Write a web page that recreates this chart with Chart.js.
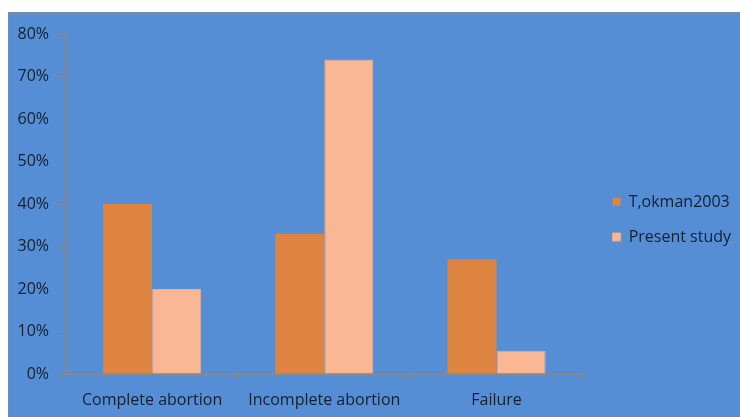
<!DOCTYPE html>
<html>
<head>
<meta charset="utf-8">
<script src="https://cdn.jsdelivr.net/npm/chart.js@4/dist/chart.umd.min.js"></script>
<style>
  html, body { margin: 0; padding: 0; background: #fff; }
  #box {
    position: absolute; left: 8px; top: 12px; width: 732px; height: 405px;
    background: #558ED5; border-top: 3px solid #6C8DB9; border-left: 1px solid #6C8DB9;
    box-sizing: border-box;
  }
  #wrap { position: absolute; left: 8px; top: 12px; width: 732px; height: 405px; }
</style>
</head>
<body>
<div id="box"></div>
<div id="wrap"><canvas id="chart"></canvas></div>
<script>
const categories = ["Complete abortion", "Incomplete abortion", "Failure"];
const tokman2003 = [40, 33, 27];
const presentStudy = [20, 74, 5.5];
const seriesNames = ["T,okman2003", "Present study"];

const axisGray = "#8A8A8A";
const textColor = "#13202F";
const fontFamily = "'Open Sans', sans-serif";

// nudge legend to the right of where chart.js puts it
const legendShift = {
  id: "legendShift",
  afterLayout: function (chart) {
    const lg = chart.legend;
    lg.left += 11;
    lg.right += 11;
    lg.top -= 6;
    lg.bottom -= 6;
  },
};

const ctx = document.getElementById("chart").getContext("2d");
const myChart = new Chart(ctx, {
  type: "bar",
  data: {
    labels: categories,
    datasets: [
      {
        label: seriesNames[0],
        data: tokman2003,
        backgroundColor: "#DC8440",
        borderWidth: 0,
      },
      {
        label: seriesNames[1],
        data: presentStudy,
        backgroundColor: "#F9B793",
        borderColor: "#E9AC94",
        borderWidth: 1,
      },
    ],
  },
  options: {
    responsive: true,
    maintainAspectRatio: false,
    animation: false,
    layout: { padding: { top: 22, right: 10, left: 8, bottom: 0 } },
    datasets: { bar: { categoryPercentage: 0.57, barPercentage: 1 } },
    scales: {
      x: {
        grid: { display: true, drawOnChartArea: false, drawTicks: true, tickLength: 6, color: axisGray, offset: true },
        border: { display: true, color: axisGray },
        ticks: { color: textColor, font: { family: fontFamily, size: 16 }, padding: 11, maxRotation: 0 },
        afterFit: function (scale) { scale.height = 43; },
      },
      y: {
        min: 0,
        max: 80,
        grid: { display: true, drawOnChartArea: false, drawTicks: true, tickLength: 7, color: axisGray },
        border: { display: true, color: axisGray },
        ticks: {
          stepSize: 10,
          color: textColor,
          font: { family: fontFamily, size: 16 },
          padding: 10,
          callback: function (v) { return v + "%"; },
        },
        afterFit: function (scale) { scale.width = 50; },
      },
    },
    plugins: {
      legend: {
        position: "right",
        labels: {
          boxWidth: 8,
          boxHeight: 8,
          padding: 19,
          color: textColor,
          font: { family: fontFamily, size: 16 },
        },
      },
      tooltip: { enabled: false },
    },
  },
  plugins: [legendShift],
});
</script>
</body>
</html>
